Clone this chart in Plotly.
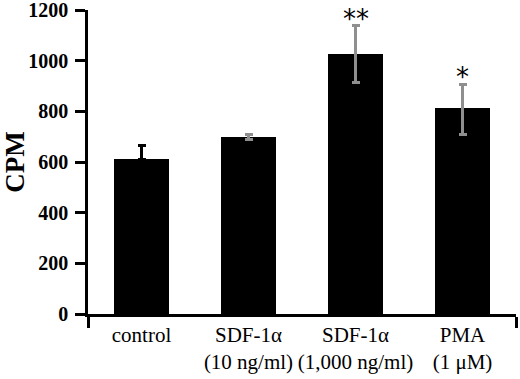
import plotly.graph_objects as go

categories = ["control", "SDF-1α<br>(10 ng/ml)", "SDF-1α<br>(1,000 ng/ml)", "PMA<br>(1 μM)"]
values = [610, 700, 1027, 812]
err_plus = [55, 10, 110, 95]
err_minus = [0, 12, 115, 105]
stars = ["", "", "**", "*"]
y_ticks = [0, 200, 400, 600, 800, 1000, 1200]

xpos = list(range(len(categories)))
serif = "Liberation Serif"

fig = go.Figure()
# control: black, upper only
fig.add_trace(go.Bar(
    x=xpos[:1], y=values[:1], width=0.52, marker=dict(color="black", line=dict(width=0)),
    error_y=dict(type="data", symmetric=False, array=err_plus[:1], arrayminus=err_minus[:1],
                 color="black", thickness=3, width=4),
    showlegend=False))
fig.add_trace(go.Bar(
    x=xpos[1:], y=values[1:], width=0.52, marker=dict(color="black", line=dict(width=0)),
    error_y=dict(type="data", symmetric=False, array=err_plus[1:], arrayminus=err_minus[1:],
                 color="#8f8f8f", thickness=3, width=4),
    showlegend=False))

for i, s in enumerate(stars):
    if s:
        fig.add_annotation(x=xpos[i], y=values[i] + err_plus[i], text=s, showarrow=False,
                           yanchor="bottom", yshift=-10,
                           font=dict(family="DejaVu Sans", size=26, color="black"))

fig.update_layout(
    width=520, height=379,
    margin=dict(l=88, r=4, t=10, b=65),
    plot_bgcolor="white", paper_bgcolor="white",
    font=dict(family=serif, color="black"),
    bargap=0,
    xaxis=dict(
        range=[-0.5, 3.5], tickvals=xpos, ticktext=categories, ticks="", tickangle=0,
        showline=True, linecolor="black", linewidth=2.5, showgrid=False, zeroline=False,
        tickfont=dict(family=serif, size=21, color="black"),
        automargin=False, ticklabeloverflow="allow",
        minor=dict(ticks="outside", tick0=-0.5, dtick=4, ticklen=11, tickwidth=2.5,
                   tickcolor="black", showgrid=False),
    ),
    yaxis=dict(
        range=[0, 1200], tickvals=y_ticks, ticktext=["<b>%d</b>" % v for v in y_ticks],
        ticks="outside", ticklen=10, tickwidth=2.5,
        tickcolor="black", showline=True, linecolor="black", linewidth=2.5,
        showgrid=False, zeroline=False, automargin=False, ticklabeloverflow="allow",
        ticklabelstandoff=3,
        tickfont=dict(family=serif, size=20, color="black"),
        title=dict(text="<b>CPM</b>", font=dict(family=serif, size=27, color="black"), standoff=16),
    ),
)

fig.write_html("out.html", config={"displayModeBar": False},
               post_script="document.body.style.margin='0';document.body.style.padding='0';")
